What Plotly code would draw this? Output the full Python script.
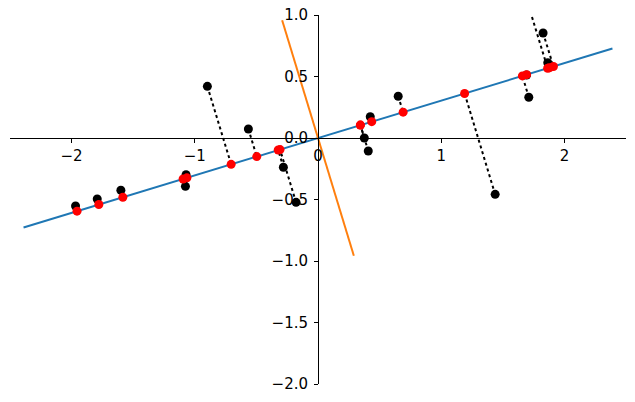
import plotly.graph_objects as go

# Original data points (black)
data_x = [-1.968, -1.792, -1.600, -1.071, -1.076, -0.898, -0.565, -0.281, -0.178,
          0.376, 0.408, 0.424, 0.651, 1.438, 1.693, 1.711, 1.827, 1.865, 1.68]
data_y = [-0.553, -0.496, -0.425, -0.298, -0.393, 0.420, 0.073, -0.238, -0.523,
          0.000, -0.106, 0.173, 0.339, -0.458, 0.512, 0.331, 0.854, 0.612, 1.17]

# Projected points on first component (red)
proj_x = [-1.956, -1.779, -1.584, -1.064, -1.095, -0.705, -0.497, -0.323, -0.308,
          0.344, 0.344, 0.436, 0.691, 1.190, 1.693, 1.659, 1.911, 1.878, 1.864]
proj_y = [-0.595, -0.541, -0.482, -0.324, -0.333, -0.214, -0.151, -0.098, -0.094,
          0.105, 0.105, 0.133, 0.210, 0.362, 0.515, 0.505, 0.581, 0.571, 0.567]

# Component axes (end points)
pc1_x = [-2.39, 2.39]
pc1_y = [-0.727, 0.727]
pc2_x = [0.291, -0.291]
pc2_y = [-0.957, 0.957]

x_ticks = [-2, -1, 0, 1, 2]
y_ticks = [-2.0, -1.5, -1.0, -0.5, 0.0, 0.5, 1.0]

fig = go.Figure()
fig.add_trace(go.Scatter(x=pc1_x, y=pc1_y, mode="lines",
                         line=dict(color="#1f77b4", width=2), showlegend=False))
fig.add_trace(go.Scatter(x=pc2_x, y=pc2_y, mode="lines",
                         line=dict(color="#ff7f0e", width=2), showlegend=False))

seg_x, seg_y = [], []
for bx, by, rx, ry in zip(data_x, data_y, proj_x, proj_y):
    seg_x += [bx, rx, None]
    seg_y += [by, ry, None]
fig.add_trace(go.Scatter(x=seg_x, y=seg_y, mode="lines",
                         line=dict(color="black", width=2, dash="dot"), showlegend=False))

fig.add_trace(go.Scatter(x=data_x, y=data_y, mode="markers",
                         marker=dict(color="black", size=9), showlegend=False))
fig.add_trace(go.Scatter(x=proj_x, y=proj_y, mode="markers",
                         marker=dict(color="red", size=9), showlegend=False))

fig.update_layout(
    width=635, height=402,
    margin=dict(l=10, r=9, t=15, b=18),
    plot_bgcolor="white", paper_bgcolor="white",
    font=dict(family="DejaVu Sans", size=15, color="black"),
    xaxis=dict(range=[-2.5, 2.5], anchor="free", position=2/3, automargin=False,
               showline=True, linecolor="black", linewidth=1,
               ticks="outside", ticklen=4, tickwidth=1, tickcolor="black",
               tickvals=x_ticks, ticktext=[("−" + str(-v)) if v < 0 else str(v) for v in x_ticks],
               showgrid=False, zeroline=False),
    yaxis=dict(range=[-2.0, 1.0], anchor="free", position=0.5, automargin=False,
               showline=True, linecolor="black", linewidth=1,
               ticks="outside", ticklen=4, tickwidth=1, tickcolor="black",
               ticklabelstandoff=3,
               tickvals=y_ticks, ticktext=[("−%.1f" % -v) if v < 0 else "%.1f" % v for v in y_ticks],
               showgrid=False, zeroline=False),
)

fig.write_html("out.html", config={"displayModeBar": False},
               post_script="document.body.style.margin='0';")
